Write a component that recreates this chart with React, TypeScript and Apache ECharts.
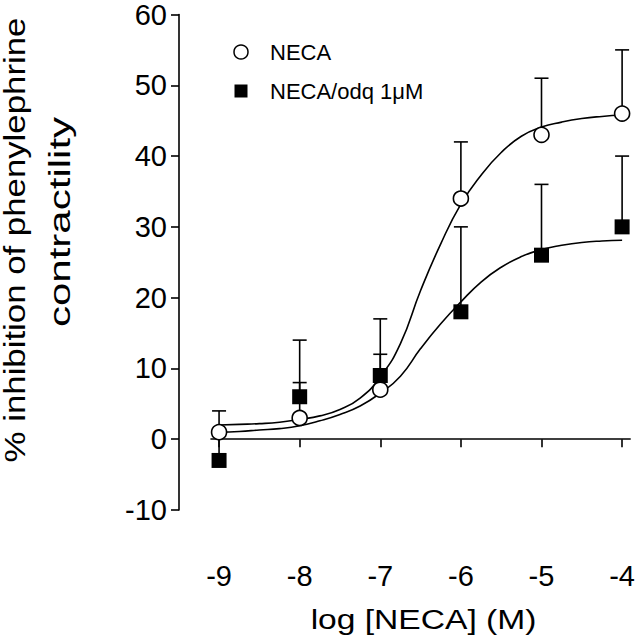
import React, { useEffect, useRef } from "react";
import * as echarts from "echarts";

// Measured concentrations (log M)
const doses = [-9, -8, -7, -6, -5, -4];
// NECA alone: mean and SEM (% inhibition)
const necaMean = [1, 3, 7, 34, 43, 46];
const necaSem = [3, 5, 5, 8, 8, 9];
// NECA + ODQ 1 µM
const odqMean = [-3, 6, 9, 18, 26, 30];
const odqSem = [4, 8, 8, 12, 10, 10];

// Fitted curves
const curveX = [-9, -8.75, -8.5, -8.25, -8, -7.75, -7.5, -7.25, -7, -6.75, -6.5, -6.25, -6, -5.75, -5.5, -5.25, -5, -4.75, -4.5, -4.25, -4];
const necaCurve = [2.0, 2.1, 2.2, 2.4, 2.8, 3.3, 4.2, 5.8, 8.8, 13.5, 21.0, 27.6, 33.2, 37.3, 40.5, 42.8, 44.1, 44.8, 45.3, 45.6, 45.8];
const odqCurve = [1.0, 1.1, 1.3, 1.5, 1.9, 2.6, 3.5, 4.7, 6.5, 8.9, 12.8, 16.3, 19.4, 22.2, 24.3, 25.8, 26.8, 27.4, 27.8, 28.0, 28.1];

const yTicks = [-10, 0, 10, 20, 30, 40, 50, 60];

const legendLabels = ["NECA", "NECA/odq 1\u03bcM"];
const xTitle = "log [NECA] (M)";
const yTitleLines = ["% inhibition of phenylephrine", "contractility"];

const FONT = "'Liberation Sans', Arial, Helvetica, sans-serif";

export default function App() {
  const ref = useRef<HTMLDivElement>(null);

  useEffect(() => {
    if (!ref.current) return;
    const chart = echarts.init(ref.current, undefined, { renderer: "svg" });

    const pair = (xs: number[], ys: number[]) => xs.map((x, i) => [x, ys[i]]);
    const errData = (m: number[], s: number[]) => doses.map((x, i) => [x, m[i], s[i]]);

    const errRender = (params: any, api: any) => {
      const x = api.value(0);
      const m = api.value(1);
      const e = api.value(2);
      const p0 = api.coord([x, m]);
      const p1 = api.coord([x, m + e]);
      const style = { stroke: "#000", lineWidth: 1.6 };
      return {
        type: "group",
        children: [
          { type: "line", shape: { x1: p0[0], y1: p0[1], x2: p1[0], y2: p1[1] }, style },
          { type: "line", shape: { x1: p1[0] - 7, y1: p1[1], x2: p1[0] + 7, y2: p1[1] }, style },
        ],
      };
    };

    const textStyle = (text: string, size: number, align: string) => ({
      text,
      fontSize: size,
      fontFamily: FONT,
      fill: "#000",
      align,
      verticalAlign: "middle",
      textAlign: align,
      textVerticalAlign: "middle",
    });

    chart.setOption({
      animation: false,
      backgroundColor: "#fff",
      grid: { left: 211, right: 5, top: 13, bottom: 130, containLabel: false },
      xAxis: {
        type: "value",
        min: -9.1,
        max: -3.9,
        offset: 35,
        axisLine: { show: true, lineStyle: { color: "#000", width: 1.6 } },
        axisTick: { show: true, length: 8, lineStyle: { color: "#000", width: 1.6 }, customValues: doses },
        axisLabel: {
          show: true,
          customValues: doses,
          margin: 16,
          color: "#000",
          fontSize: 29,
          fontFamily: FONT,
          formatter: (v: number) => String(v),
        },
        splitLine: { show: false },
      },
      yAxis: {
        type: "value",
        min: yTicks[0],
        max: yTicks[yTicks.length - 1],
        interval: 10,
        offset: 32,
        axisLine: { show: true, lineStyle: { color: "#000", width: 1.6 } },
        axisTick: { show: true, length: 8, lineStyle: { color: "#000", width: 1.6 } },
        axisLabel: { margin: 12, color: "#000", fontSize: 29, fontFamily: FONT },
        splitLine: { show: false },
      },
      series: [
        {
          type: "line",
          name: "NECA fit",
          data: pair(curveX, necaCurve),
          smooth: true,
          showSymbol: false,
          lineStyle: { color: "#000", width: 1.6 },
          z: 2,
        },
        {
          type: "line",
          name: "NECA/odq fit",
          data: pair(curveX, odqCurve),
          smooth: true,
          showSymbol: false,
          lineStyle: { color: "#000", width: 1.6 },
          z: 2,
        },
        {
          type: "custom",
          name: "NECA SEM",
          data: errData(necaMean, necaSem),
          encode: { x: 0, y: 1 },
          renderItem: errRender,
          z: 3,
        },
        {
          type: "custom",
          name: "NECA/odq SEM",
          data: errData(odqMean, odqSem),
          encode: { x: 0, y: 1 },
          renderItem: errRender,
          z: 3,
        },
        {
          type: "scatter",
          name: legendLabels[1],
          data: pair(doses, odqMean),
          symbol: "rect",
          symbolSize: 15,
          itemStyle: { color: "#000", opacity: 1 },
          z: 4,
        },
        {
          type: "scatter",
          name: legendLabels[0],
          data: pair(doses, necaMean),
          symbol: "circle",
          symbolSize: 15,
          itemStyle: { color: "#fff", borderColor: "#000", borderWidth: 1.6, opacity: 1 },
          z: 5,
        },
      ],
      graphic: [
        {
          type: "circle",
          shape: { cx: 241, cy: 52, r: 7 },
          style: { fill: "#fff", stroke: "#000", lineWidth: 1.5 },
        },
        {
          type: "rect",
          shape: { x: 234.5, y: 84.5, width: 13, height: 13 },
          style: { fill: "#000" },
        },
        { type: "text", x: 270, y: 52, style: textStyle(legendLabels[0], 22, "left") },
        { type: "text", x: 270, y: 91, style: textStyle(legendLabels[1], 22, "left") },
        { type: "text", x: 423.5, y: 619, scaleX: 1.2, style: textStyle(xTitle, 28, "center") },
        { type: "text", x: 15, y: 240, rotation: Math.PI / 2, scaleX: 1.2, style: textStyle(yTitleLines[0], 29, "center") },
        { type: "text", x: 60, y: 222, rotation: Math.PI / 2, scaleX: 1.45, style: textStyle(yTitleLines[1], 29, "center") },
      ],
    });

    return () => chart.dispose();
  }, []);

  return (
    <div
      ref={ref}
      style={{ position: "absolute", left: 0, top: 0, width: 638, height: 640, background: "#fff" }}
    />
  );
}
